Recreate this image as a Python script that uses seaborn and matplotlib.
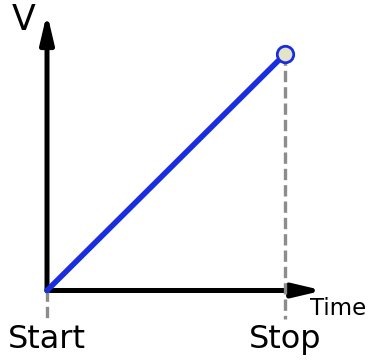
import matplotlib
matplotlib.use("Agg")
import matplotlib.pyplot as plt
import seaborn as sns

# ramp from start to stop
times = [0, 1]
voltage = [0, 1]
time_labels = ["Start", "Stop"]
y_label = "V"
x_label = "Time"

sns.set_style("white")
plt.rcParams['font.family'] = ['DejaVu Sans']
plt.rcParams['text.color'] = 'black'

fig = plt.figure(figsize=(3.68, 3.6), dpi=100)
ax = fig.add_axes([0, 0, 1, 1])
ax.set_xlim(-0.1975, 1.3487)
ax.set_ylim(-0.2939, 1.2283)
ax.axis("off")

arrow_style = dict(arrowstyle="-|>,head_length=0.85,head_width=0.2", color="black",
                   lw=3.6, mutation_scale=20, shrinkA=0, shrinkB=0)
ax.annotate("", xy=(0, 1.173), xytext=(0, 0), arrowprops=arrow_style, zorder=2)
ax.annotate("", xy=(1.16, 0), xytext=(0, 0), arrowprops=arrow_style, zorder=2)

# dashed guides under start / stop
for t, v in zip(times, voltage):
    ax.plot([t, t], [v, -0.12], color="#8c8c8c", lw=2.4, ls=(0, (3.4, 1.5)),
            solid_capstyle="butt", zorder=3)

sns.lineplot(x=times, y=voltage, ax=ax, color="#1a2ee0", linewidth=4, zorder=4)
ax.scatter(times[-1:], voltage[-1:], s=140, color="#e3e3c9", edgecolor="#1a2ee0",
           linewidth=2, zorder=5)

for t, lab in zip(times, time_labels):
    ax.text(t, -0.245, lab, ha="center", va="baseline", fontsize=23, color="black")

ax.text(-0.147, 1.1015, y_label, ha="left", va="baseline", fontsize=25, color="black")
ax.text(1.104, -0.1036, x_label, ha="left", va="baseline", fontsize=16.5, color="black")

fig.savefig("out.png", dpi=100)
